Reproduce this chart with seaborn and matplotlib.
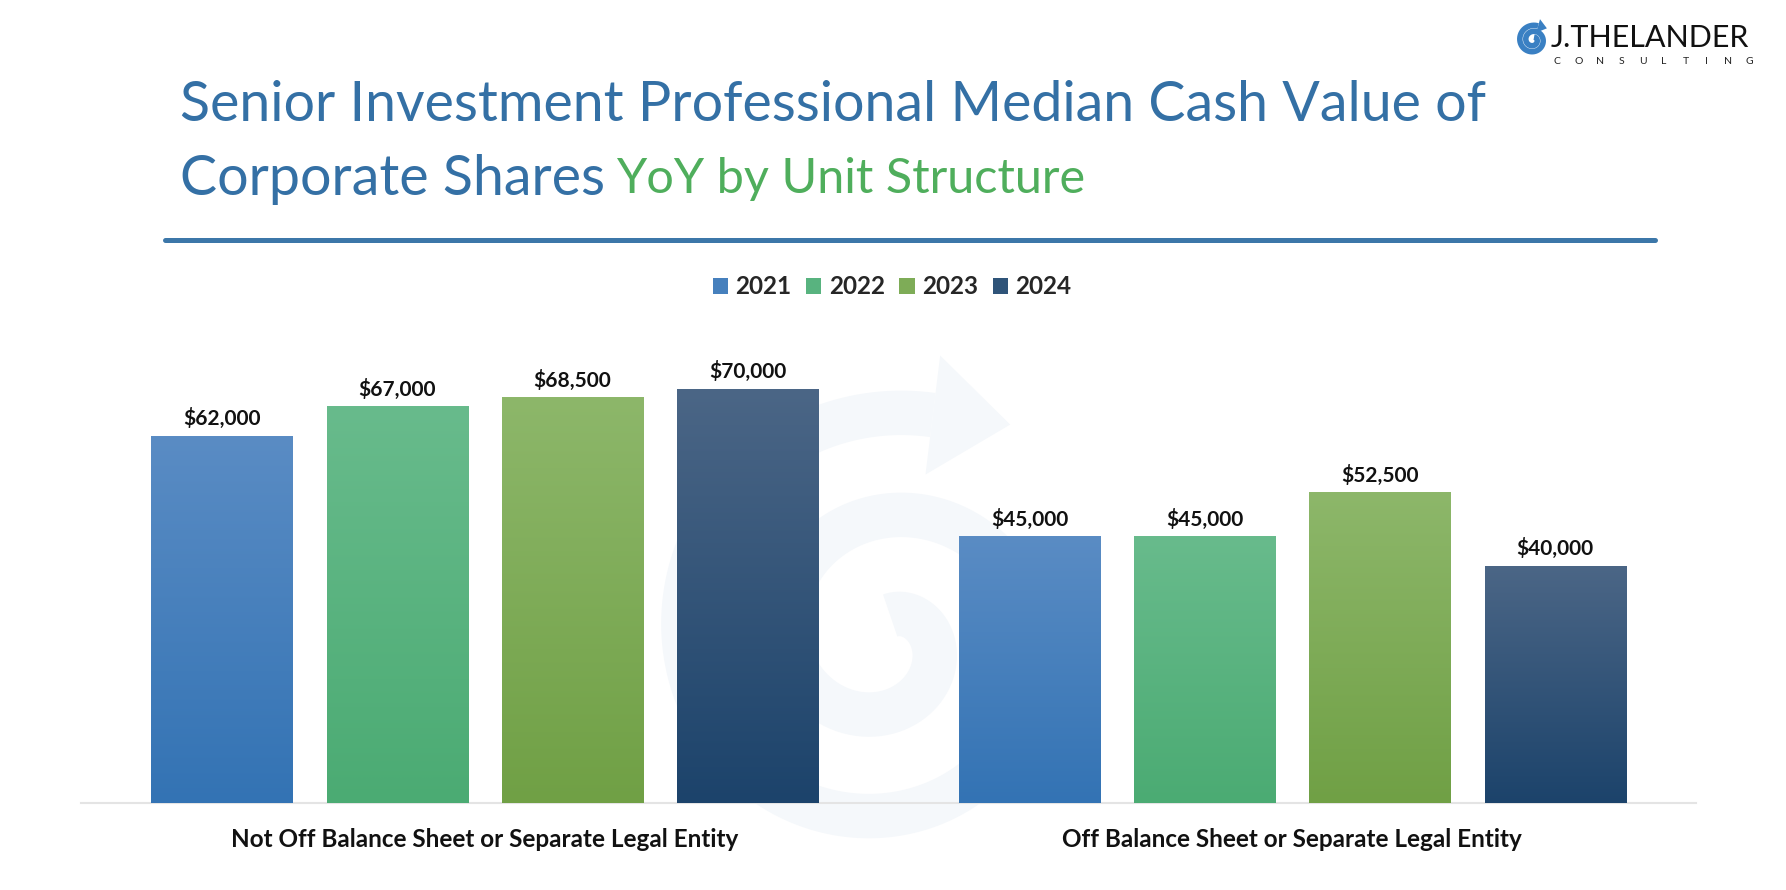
import numpy as np
import pandas as pd
import seaborn as sns
import matplotlib.pyplot as plt
from matplotlib.colors import to_rgb
from matplotlib.patches import Patch, Polygon

# Data
structures = ["Not Off Balance Sheet or Separate Legal Entity",
              "Off Balance Sheet or Separate Legal Entity"]
years = ["2021", "2022", "2023", "2024"]
not_off_values = [62000, 67000, 68500, 70000]
off_values = [45000, 45000, 52500, 40000]

# gradient colours per year (top, bottom)
top_colors = ["#5a8cc4", "#68bb8c", "#8db76a", "#4b6686"]
bottom_colors = ["#3373b4", "#4bab73", "#70a045", "#1c436b"]
legend_colors = ["#4680bd", "#58b37f", "#7eac57", "#2f5479"]

rows = []
for yr, v1, v2 in zip(years, not_off_values, off_values):
    rows.append({"structure": structures[0], "year": yr, "value": v1})
    rows.append({"structure": structures[1], "year": yr, "value": v2})
df = pd.DataFrame(rows)

sns.set_theme(style="white")
plt.rcParams['font.family'] = ['Lato', 'DejaVu Sans']

W, H = 1786, 890
fig = plt.figure(figsize=(W / 100, H / 100), dpi=100)

# background layer in pixel coordinates
bg = fig.add_axes([0, 0, 1, 1], zorder=0)
bg.set_xlim(0, W)
bg.set_ylim(H, 0)
bg.axis("off")


def draw_spiral(axis, cx, cy, r0, r1, turns, end_deg, lw, color, head):
    th = np.linspace(np.radians(end_deg + 360 * turns), np.radians(end_deg), 400)
    r = np.linspace(r0, r1, th.size)
    xs = cx + r * np.cos(th)
    ys = cy - r * np.sin(th)
    axis.plot(xs, ys, color=color, lw=lw, solid_capstyle="butt", zorder=0)
    # arrow head at the outer end
    dx, dy = xs[-1] - xs[-2], ys[-1] - ys[-2]
    n = np.hypot(dx, dy)
    dx, dy = dx / n, dy / n
    px, py = -dy, dx
    tip = (xs[-1] + dx * head * 1.3, ys[-1] + dy * head * 1.3)
    a = (xs[-1] + px * head, ys[-1] + py * head)
    b = (xs[-1] - px * head, ys[-1] - py * head)
    axis.add_patch(Polygon([a, tip, b], closed=True, color=color, lw=0, zorder=0))


# faint watermark
draw_spiral(bg, 885, 640, 25, 230, 2.0, 78, 32, "#f5f8fb", 60)

# logo
draw_spiral(bg, 1533, 40, 3, 15, 2.0, 70, 4, "#3a80c3", 7)
bg.text(1551, 47, "J.THELANDER", fontsize=22, color="#111111",
        ha="left", va="baseline")
for i, ch in enumerate("CONSULTING"):
    bg.text(1557 + i * 21.4, 61, ch, fontsize=7.5, color="#222222",
            ha="center", va="center")

# title
fig.text(180 / W, 1 - 121 / H, "Senior Investment Professional Median Cash Value of",
         fontsize=40, color="#3470a5", ha="left", va="baseline")
fig.text(180 / W, 1 - 195 / H, "Corporate Shares", fontsize=40, color="#3470a5",
         ha="left", va="baseline")
fig.text(616 / W, 1 - 193 / H, "YoY by Unit Structure", fontsize=35, color="#4fae5c",
         ha="left", va="baseline")
bg.plot([165, 1655], [239.5, 239.5], color="#3c77a9", lw=3.6, solid_capstyle="round")

# main chart
ax = fig.add_axes([81 / W, 1 - 803 / H, 1615 / W, 473 / H], zorder=2)
ax.set_facecolor("none")
sns.barplot(data=df, x="structure", y="value", hue="year", hue_order=years,
            order=structures, palette=bottom_colors, saturation=1,
            width=0.868, gap=0.195, errorbar=None, ax=ax, legend=False)

for i, cont in enumerate(ax.containers):
    grad = np.linspace(0, 1, 256)[:, None, None]
    img = np.array(to_rgb(top_colors[i])) * (1 - grad) + np.array(to_rgb(bottom_colors[i])) * grad
    for bar in cont:
        x0, w, h = bar.get_x(), bar.get_width(), bar.get_height()
        ax.imshow(img, extent=[x0, x0 + w, 0, h], aspect="auto", origin="upper",
                  interpolation="bilinear", zorder=3)
        ax.annotate(f"${h:,.0f}", (x0 + w / 2, h), xytext=(0, 8),
                    textcoords="offset points", ha="center", va="baseline",
                    fontsize=15, fontweight="bold", color="#111111")

ax.set_xlim(-0.5, 1.5)
ax.set_ylim(0, 80000)
ax.set_xlabel("")
ax.set_ylabel("")
ax.set_yticks([])
for s in ["top", "right", "left"]:
    ax.spines[s].set_visible(False)
ax.spines["bottom"].set_color("#e4e4e4")
ax.spines["bottom"].set_linewidth(1.5)
ax.tick_params(axis="x", length=0, pad=18, labelsize=17.5, labelcolor="#111111")
for lbl in ax.get_xticklabels():
    lbl.set_fontweight("bold")

handles = [Patch(facecolor=c, edgecolor="none") for c in legend_colors]
fig.legend(handles, years, loc="center", bbox_to_anchor=(892 / W, 1 - 287 / H),
           ncol=4, frameon=False, prop={"weight": "bold", "size": 17.5},
           handlelength=0.63, handleheight=0.63, handletextpad=0.3,
           columnspacing=0.6)

fig.savefig("out.png", dpi=100, facecolor="white")
